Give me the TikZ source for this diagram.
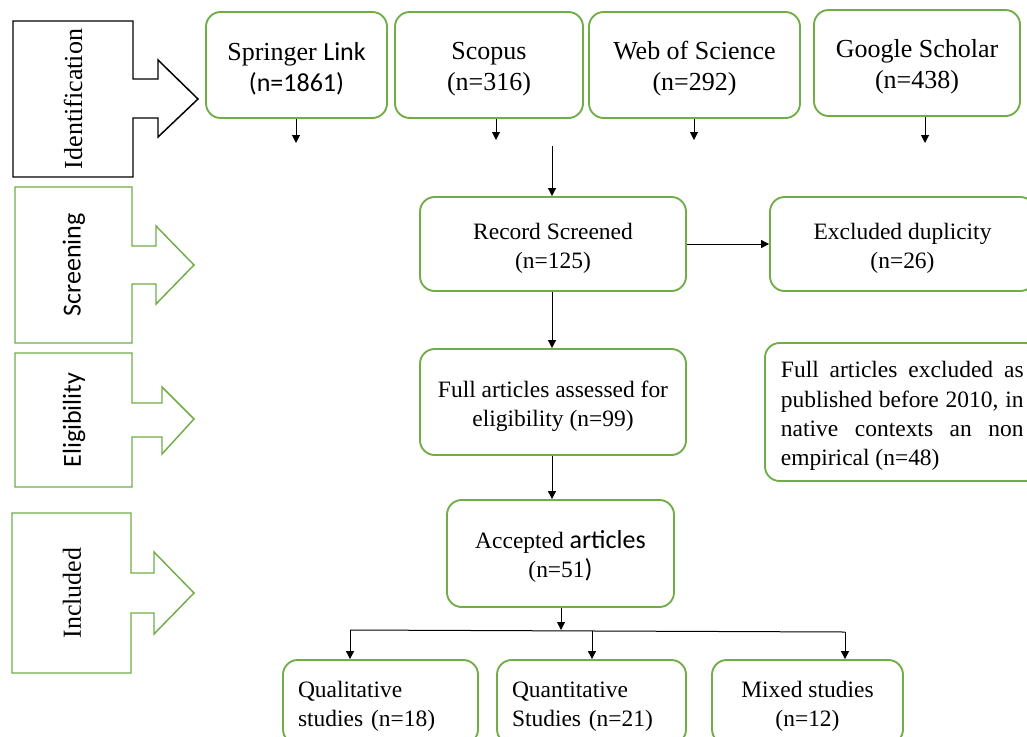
\documentclass[tikz,border=0pt]{standalone}
\usepackage{fontspec}
\setmainfont{Liberation Serif}
\newfontfamily\carl{Carlito}
\usetikzlibrary{arrows.meta,calc}
\definecolor{grn}{RGB}{112,173,71}
\newcommand\strutM{\rule{0pt}{18.4pt}}
\newcommand\strutB{\rule{0pt}{18.8pt}}
\newcommand\jline[1]{\makebox[182pt][s]{#1}}
\newcommand\carlbig{\carl\fontsize{19.5}{22}\selectfont}
\begin{document}
\begin{tikzpicture}[x=0.75pt,y=-0.75pt,
  box/.style={draw=grn, line width=1.4pt, rounded corners=11pt, align=center, inner sep=0pt},
  big/.style={font=\fontsize{19.5}{23.25}\selectfont},
  mid/.style={font=\fontsize{17.6}{22}\selectfont},
  arr/.style={-{Triangle[width=6pt,length=6pt]}, line width=0.75pt},
  phase/.style={line width=1.1pt, line join=miter},
  plabel/.style={rotate=90, font=\fontsize{19.5}{23}\selectfont}]
\useasboundingbox (0,0) rectangle (1027,736);
\clip (0,0) rectangle (1027,736);

% phase callouts
\draw[phase,black] (13,21) -- (133,21) -- (133,79) -- (158,79) -- (158,60) -- (198,99) -- (158,137) -- (158,118) -- (133,118) -- (133,177) -- (13,177) -- cycle;
\node[plabel] (lid) at (73,99) {Identification};
\draw[phase,grn] (15,187) -- (132,187) -- (132,246) -- (156,246) -- (156,226) -- (194,265) -- (156,304) -- (156,284) -- (132,284) -- (132,343) -- (15,343) -- cycle;
\node[plabel] (lsc) at (74,265) {\carl Screening};
\draw[phase,grn] (15,353) -- (132,353) -- (132,403) -- (162,403) -- (162,387) -- (194,419) -- (162,454) -- (162,437) -- (132,437) -- (132,487) -- (15,487) -- cycle;
\node[plabel] (lel) at (74,420) {\carl Eligibility};
\draw[phase,grn] (12,513) -- (131,513) -- (131,573) -- (154,573) -- (154,552) -- (194,593) -- (154,634) -- (154,613) -- (131,613) -- (131,673) -- (12,673) -- cycle;
\node[plabel] (lin) at (72,593) {Included};

% top sources
\node[box,big,minimum width=135.75pt,minimum height=79.5pt] (spr) at (296.5,65) {\strutB Springer {\carl Link}\\{\carl (n=1861)}};
\node[box,big,minimum width=141pt,minimum height=79.5pt] (sco) at (489,65) {\strutB Scopus\\(n=316)};
\node[box,big,minimum width=158.25pt,minimum height=79.5pt] (wos) at (694.5,65) {\strutB Web of Science\\(n=292)};
\node[box,big,minimum width=154.5pt,minimum height=79.5pt] (goo) at (917,63) {\strutB Google Scholar\\(n=438)};

\coordinate (e1) at (296,143);
\coordinate (e2) at (496,140);
\coordinate (e3) at (694,140);
\coordinate (e4) at (925,143);
\draw[arr] (spr.south -| e1) -- (e1);
\draw[arr] (sco.south -| e2) -- (e2);
\draw[arr] (wos.south -| e3) -- (e3);
\draw[arr] (goo.south -| e4) -- (e4);

% middle
\node[box,mid,minimum width=199.5pt,minimum height=70.5pt] (rec) at (553,244) {\strutM Record Screened\\(n=125)};
\node[box,mid,minimum width=198.75pt,minimum height=70.5pt] (dup) at (902.5,244) {\strutM Excluded duplicity\\(n=26)};
\node[box,mid,minimum width=199.5pt,minimum height=79.5pt] (ful) at (553,402) {\strutM Full articles assessed for\\eligibility (n=99)};
\node[box,mid,align=left,inner xsep=12pt,minimum height=103.5pt] (exc) at (902.3,412)
  {\strutM\jline{Full articles excluded as}\\\jline{published before 2010, in}\\\jline{native contexts an non}\\\makebox[182pt][l]{empirical (n=48)}};
\node[box,mid,minimum width=170.25pt,minimum height=80.25pt] (acc) at (560.5,553.5) {\strutM Accepted {\carlbig articles}\\(n=51{\carlbig )}};

\coordinate (cin) at (552,146);
\draw[arr] (cin) -- (cin |- rec.north);
\draw[arr] (rec.east) -- (dup.west);
\draw[arr] (rec.south -| cin) -- (ful.north -| cin);
\draw[arr] (ful.south -| cin) -- (acc.north -| cin);

% bottom
\node[box,mid,text width=123.75pt,inner xsep=11.25pt,align=left,minimum height=63pt] (qua) at (380.5,702) {\strutM Qualitative\\studies (n=18)};
\node[box,mid,text width=119.25pt,inner xsep=11.25pt,align=left,minimum height=63pt] (qnt) at (591.5,702) {\strutM Quantitative\\Studies (n=21)};
\node[box,mid,minimum width=143.25pt,minimum height=63pt] (mix) at (807.5,702) {\strutM Mixed studies\\(n=12)};

\coordinate (jm) at (561,630);
\coordinate (jl) at (350,630);
\coordinate (jc) at (592,631);
\coordinate (jr) at (845,632);
\draw[arr] (acc.south -| jm) -- (jm);
\draw[line width=0.75pt] (jl) -- (jr);
\draw[arr] (jl) -- (jl |- qua.north);
\draw[arr] (jc) -- (jc |- qnt.north);
\draw[arr] (jr) -- (jr |- mix.north);
\end{tikzpicture}
\end{document}
